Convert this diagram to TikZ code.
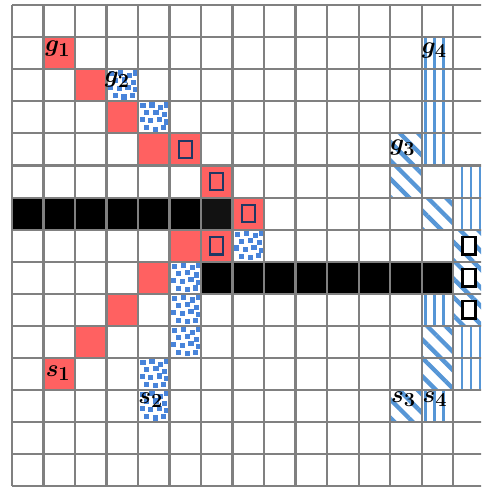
\documentclass[tikz,border=0pt]{standalone}
\usepackage{amsmath,bm}
\usetikzlibrary{patterns.meta}
\definecolor{cellred}{RGB}{255,97,97}
\definecolor{stripeblue}{RGB}{86,150,214}
\definecolor{dotblue}{RGB}{72,132,218}
\definecolor{boxblue}{RGB}{31,56,100}
\definecolor{gridgray}{RGB}{128,128,128}

\begin{document}
\begin{tikzpicture}[x=8mm,y=-8.15mm,
 cell/.style={anchor=north west,minimum width=8mm,minimum height=8.15mm,inner sep=0pt,outer sep=0pt},
 wall/.style={cell,fill=black},
 redcell/.style={cell,fill=cellred},
 dotcell/.style={cell,fill=white},
 dot/.style={fill=dotblue},
 diagcell/.style={cell,pattern={Lines[angle=-45,distance=3.3mm,line width=1.1mm]},pattern color=stripeblue},
 vertcell/.style={cell,pattern={Lines[angle=90,distance=2.3mm,line width=0.7mm]},pattern color=stripeblue},
 gridline/.style={draw=gridgray,line width=0.55mm},
 marker/.style={draw=boxblue,line width=0.6mm,minimum width=3.3mm,minimum height=4.4mm,inner sep=0pt},
 lab/.style={anchor=base west,inner sep=0pt,font=\fontsize{19}{19}\selectfont}]
\useasboundingbox (-0.381,-0.156) rectangle (14.889,15.016);
\clip (-0.381,-0.156) rectangle (14.889,15.016);
% walls
\foreach \c in {0,...,5} \node[wall] (w-\c-6) at (\c,6) {};
\node[wall,fill=black!93,draw=white,line width=0.3mm] (w-6-6) at (6,6) {};
\foreach \c in {6,...,13} \node[wall] (w-\c-8) at (\c,8) {};
% red path
\foreach \c/\r in {1/1,2/2,3/3,4/4,5/4,6/5,7/6,5/7,6/7,4/8,3/9,2/10,1/11}
  \node[redcell] (r-\c-\r) at (\c,\r) {};
% dotted path
\foreach \c/\r in {3/2,4/3,7/7,5/8,5/9,5/10,4/11,4/12} {
  \node[dotcell] (d-\c-\r) at (\c,\r) {};
  \foreach \u/\v in {0.6/0.5,2.9/0.3,5.1/0.9,6.6/0.3,1.6/2.3,3.9/2.1,6.1/2.7,
                     0.4/4.0,2.6/4.3,4.8/3.9,6.6/4.6,1.6/6.1,3.8/6.4,5.9/6.0}
    \fill[dot] ([xshift=\u mm,yshift=-\v mm]d-\c-\r.north west) rectangle ++(1.3mm,-1.3mm);
}
% striped paths
\foreach \c/\r in {13/1,13/2,13/3,13/4,14/5,14/6,13/9,14/10,14/11,13/12}
  \node[vertcell] (v-\c-\r) at (\c,\r) {};
\foreach \c/\r in {12/4,12/5,13/6,14/7,14/8,14/9,13/10,13/11,12/12}
  \node[diagcell] (x-\c-\r) at (\c,\r) {};
% grid
\foreach \i in {0,...,15} {
  \draw[gridline] (\i,0) -- (\i,15);
  \draw[gridline] (0,\i) -- (15,\i);
}
% markers
\node[marker] (m-5-4) at (r-5-4) {};
\node[marker] (m-6-5) at (r-6-5) {};
\node[marker] (m-7-6) at (r-7-6) {};
\node[marker] (m-6-7) at (r-6-7) {};
\node[marker,draw=black,fill=white] (m-14-7) at (x-14-7) {};
\node[marker,draw=black,fill=white] (m-14-8) at (x-14-8) {};
\node[marker,draw=black,fill=white] (m-14-9) at (x-14-9) {};
% labels
\node[lab] (g1) at ([xshift=0.4mm,yshift=0.3mm]r-1-1.west) {$\bm{g_1}$};
\node[lab] (g2) at ([xshift=-0.5mm,yshift=0.6mm]d-3-2.west) {$\bm{g_2}$};
\node[lab] (g3) at ([xshift=0mm,yshift=-0.3mm]x-12-4.west) {$\bm{g_3}$};
\node[lab] (g4) at ([xshift=0mm,yshift=0mm]v-13-1.west) {$\bm{g_4}$};
\node[lab] (s1) at ([xshift=0.5mm,yshift=-0.5mm]r-1-11.west) {$\bm{s_1}$};
\node[lab] (s2) at ([xshift=0mm,yshift=0.8mm]d-4-12.west) {$\bm{s_2}$};
\node[lab] (s3) at ([xshift=0.2mm,yshift=1mm]x-12-12.west) {$\bm{s_3}$};
\node[lab] (s4) at ([xshift=0.2mm,yshift=1mm]v-13-12.west) {$\bm{s_4}$};
\end{tikzpicture}
\end{document}
